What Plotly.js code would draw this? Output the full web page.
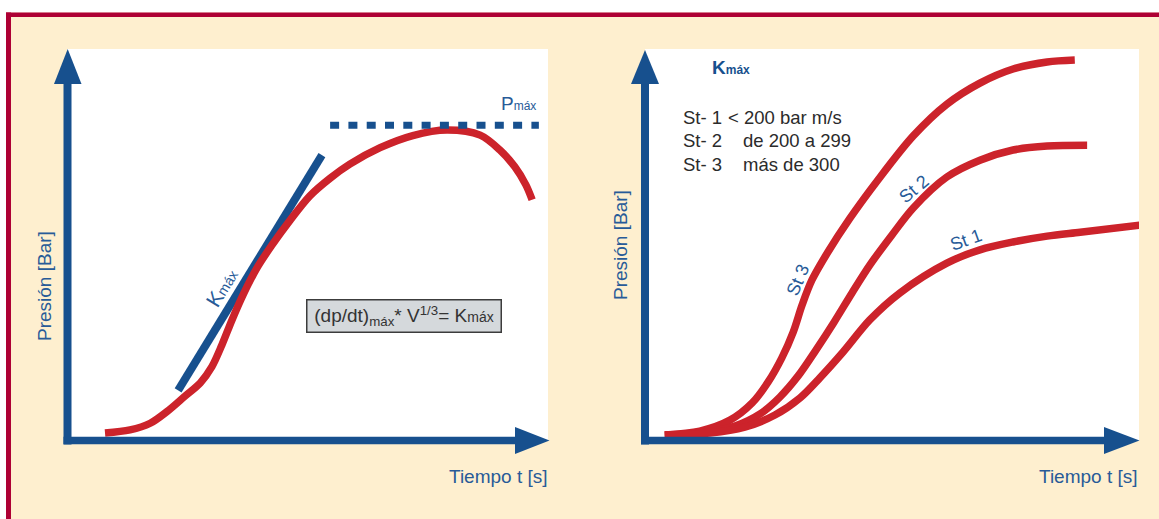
<!DOCTYPE html>
<html><head><meta charset="utf-8">
<script src="https://cdn.plot.ly/plotly-3.0.1.min.js"></script>
<style>html,body{margin:0;padding:0;background:#fff}</style>
</head><body><div id="chart" style="width:1159px;height:519px"></div>
<script>
// ---------- data (time in arbitrary units 0-10, pressure 0-10) ----------
// left panel: pressure curve of an explosion
const leftTime = [0.79,1.31,1.73,2.08,2.45,2.77,3.01,3.22,3.43,3.66,3.95,4.26,4.64,5.05,5.47,5.88,6.51,7.19,7.90,8.59,9.00,9.31,9.54,9.67];
const leftPres = [0.19,0.27,0.44,0.74,1.13,1.47,1.88,2.44,3.08,3.72,4.41,4.99,5.63,6.25,6.70,7.06,7.48,7.79,7.93,7.80,7.42,6.99,6.53,6.15];
// tangent (Kmáx) line
const kTime = [2.31, 5.30];
const kPres = [1.28, 7.29];
// Pmáx level
const pmaxTime = [5.47, 9.81];
const pmaxPres = [8.05, 8.05];

// right panel: St classes
const st3Time = [0.40,1.11,1.72,2.17,2.49,2.77,3.00,3.18,3.38,3.70,4.15,4.70,5.43,6.11,6.78,7.45,8.14,8.70];
const st3Pres = [0.14,0.24,0.52,0.96,1.49,2.11,2.77,3.46,4.10,4.81,5.68,6.63,7.78,8.59,9.13,9.49,9.67,9.72];
const st2Time = [0.40,1.11,1.82,2.33,2.73,3.10,3.46,3.83,4.19,4.55,5.00,5.43,6.11,6.78,7.45,8.14,8.95];
const st2Pres = [0.14,0.19,0.37,0.68,1.11,1.65,2.31,3.03,3.77,4.48,5.25,5.94,6.73,7.16,7.42,7.52,7.54];
const st1Time = [0.40,1.32,2.02,2.63,3.14,3.54,4.01,4.55,5.16,6.11,6.78,7.45,8.14,8.81,10.02];
const st1Pres = [0.14,0.19,0.34,0.65,1.09,1.60,2.26,3.08,3.77,4.53,4.87,5.07,5.22,5.32,5.50];

const legendCodes = ['St- 1','St- 2','St- 3'];
const legendRanges = ['< 200 bar m/s','de 200 a 299','más de 300'];
const curveLabels = ['St 1','St 2','St 3'];

// ---------- styling ----------
const W = 1159, H = 519;
const BLUE = '#17508E', RED = '#CC232B', TBLUE = '#285B98', CREAM = '#FEEFCF', BORDER = '#AE0034';
const FONT = '"Liberation Sans", Arial, Helvetica, sans-serif';
const X = p => p / W, Y = p => 1 - p / H;

const redLine = {color: RED, width: 7.5, shape: 'spline', smoothing: 0.9};
const traces = [
  {x: kTime, y: kPres, xaxis:'x', yaxis:'y', mode:'lines', line:{color: BLUE, width: 8}},
  {x: leftTime, y: leftPres, xaxis:'x', yaxis:'y', mode:'lines', line: redLine},
  {x: pmaxTime, y: pmaxPres, xaxis:'x', yaxis:'y', mode:'lines', line:{color: BLUE, width: 7, dash:'9px,9.3px'}},
  {x: st3Time, y: st3Pres, xaxis:'x2', yaxis:'y2', mode:'lines', line: redLine},
  {x: st2Time, y: st2Pres, xaxis:'x2', yaxis:'y2', mode:'lines', line: redLine},
  {x: st1Time, y: st1Pres, xaxis:'x2', yaxis:'y2', mode:'lines', line: redLine}
];

const hidden = {showgrid:false, zeroline:false, showticklabels:false, ticks:'', showline:false, fixedrange:true};
function rectPx(x0,y0,x1,y1,color,layer){return {type:'rect',xref:'paper',yref:'paper',x0:X(x0),x1:X(x1),y0:Y(y1),y1:Y(y0),fillcolor:color,line:{width:0},layer:layer||'below'};}
function linePx(x0,y0,x1,y1,w){return {type:'line',xref:'paper',yref:'paper',x0:X(x0),y0:Y(y0),x1:X(x1),y1:Y(y1),line:{color:BLUE,width:w}};}
function triPx(pts){return {type:'path',xref:'paper',yref:'paper',path:'M '+pts.map(p=>X(p[0])+','+Y(p[1])).join(' L ')+' Z',fillcolor:BLUE,line:{width:0}};}

const shapes = [
  rectPx(0,0,W,12.5,'#ffffff'),
  rectPx(0,0,6,H,'#ffffff'),
  rectPx(6,12.5,W,17,BORDER),
  rectPx(6,12.5,11,H,BORDER),
  // left axes
  linePx(67.5,444.5,67.5,83,8),
  triPx([[54,84],[81.5,84],[67.7,49]]),
  linePx(63.5,440.5,516,440.5,7.5),
  triPx([[515,427],[515,454],[549.5,440.5]]),
  // right axes
  linePx(645,444.5,645,83,8),
  triPx([[631,84],[659,84],[645,50]]),
  linePx(641,440.5,1105,440.5,7.5),
  triPx([[1104,427],[1104,454],[1139.5,440.5]])
];

function ann(text,px,py,o){return Object.assign({xref:'paper',yref:'paper',x:X(px),y:Y(py),text:text,showarrow:false,xanchor:'center',yanchor:'middle'},o);}
const lab = {family:FONT,size:19,color:TBLUE};
const leg = {family:FONT,size:18.5,color:'#2B2B2B'};
const annotations = [
  ann('Tiempo t [s]',550,476,{xanchor:'right',font:lab}),
  ann('Tiempo t [s]',1140,476,{xanchor:'right',font:lab}),
  ann('Presión [Bar]',44,286,{textangle:-90,font:lab}),
  ann('Presión [Bar]',620,245,{textangle:-90,font:lab}),
  ann('P<span style="font-size:12px">máx</span>',499,103,{xanchor:'left',font:{family:FONT,size:19,color:TBLUE}}),
  ann('K<span style="font-size:14px">máx</span>',222,288,{textangle:-58.5,font:{family:FONT,size:21,color:TBLUE}}),
  ann('(dp/dt)<sub>máx</sub>* V<sup>1/3</sup>= K<span style="font-size:14px">máx</span>',404,315.5,
      {font:{family:FONT,size:19,color:'#333333'},bgcolor:'#D5D9DC',bordercolor:'#3C3C3C',borderwidth:1.5,borderpad:1,width:191,height:29}),
  ann('<b>K<span style="font-size:12px">máx</span></b>',710,67,{xanchor:'left',font:{family:FONT,size:19,color:BLUE}}),
  ann(legendCodes[0],681,117,{xanchor:'left',font:leg}),
  ann(legendCodes[1],681,140.5,{xanchor:'left',font:leg}),
  ann(legendCodes[2],681,164,{xanchor:'left',font:leg}),
  ann(legendRanges[0],726,117,{xanchor:'left',font:leg}),
  ann(legendRanges[1],741,140.5,{xanchor:'left',font:leg}),
  ann(legendRanges[2],741,164,{xanchor:'left',font:leg}),
  ann(curveLabels[2],798,280,{textangle:-67,font:{family:FONT,size:18,color:TBLUE}}),
  ann(curveLabels[1],914,189,{textangle:-40,font:{family:FONT,size:18,color:TBLUE}}),
  ann(curveLabels[0],966,240,{textangle:-20,font:{family:FONT,size:18,color:TBLUE}})
];

const layout = {
  width: W, height: H,
  margin: {l:0, r:0, t:0, b:0, pad:0},
  paper_bgcolor: CREAM, plot_bgcolor: '#ffffff',
  showlegend: false,
  xaxis: Object.assign({domain:[X(67), X(548)], range:[0,10]}, hidden),
  yaxis: Object.assign({domain:[Y(440.5), Y(49)], range:[0,10]}, hidden),
  xaxis2: Object.assign({domain:[X(645), X(1139)], range:[0,10], anchor:'y2'}, hidden),
  yaxis2: Object.assign({domain:[Y(440.5), Y(49)], range:[0,10], anchor:'x2'}, hidden),
  shapes: shapes,
  annotations: annotations
};
Plotly.newPlot('chart', traces, layout, {staticPlot:true, displayModeBar:false});
</script></body></html>
